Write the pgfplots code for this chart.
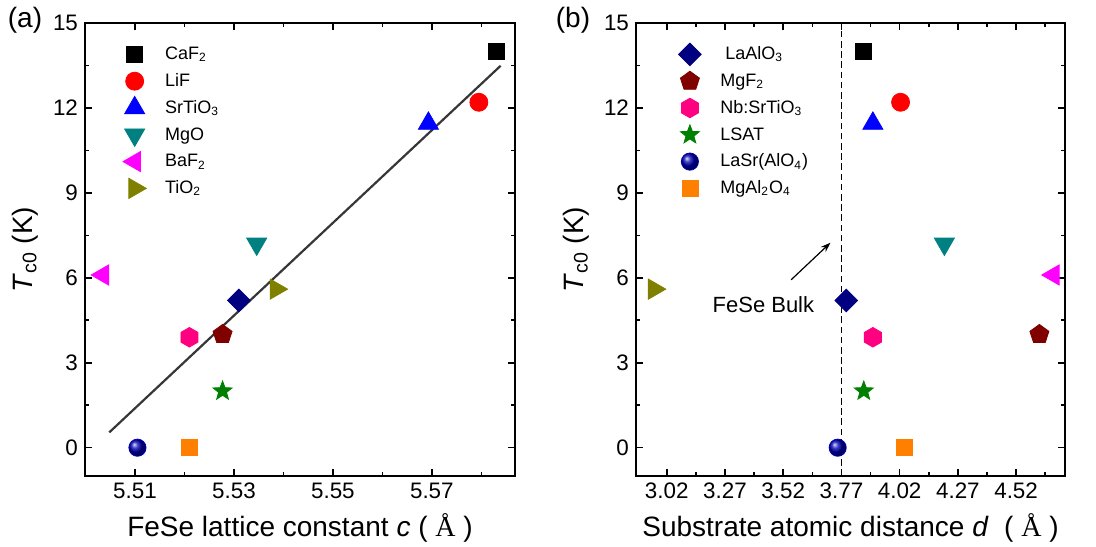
\documentclass[border=0pt]{standalone}
\usepackage{fontspec}
\setmainfont{Liberation Sans}
\newfontfamily\serifA{Liberation Serif}
\usepackage{pgfplots}
\pgfplotsset{compat=1.18}
\usetikzlibrary{plotmarks,arrows.meta}

% substrate colours
\definecolor{cBlack}{RGB}{0,0,0}
\definecolor{cRed}{RGB}{255,0,0}
\definecolor{cBlue}{RGB}{0,0,255}
\definecolor{cTeal}{RGB}{0,128,128}
\definecolor{cMagenta}{RGB}{255,0,255}
\definecolor{cOlive}{RGB}{128,128,0}
\definecolor{cNavy}{RGB}{0,0,128}
\definecolor{cMaroon}{RGB}{128,0,0}
\definecolor{cPink}{RGB}{255,0,128}
\definecolor{cGreen}{RGB}{0,128,0}
\definecolor{cBall}{RGB}{0,0,180}
\definecolor{cOrange}{RGB}{255,128,0}
\definecolor{cFit}{RGB}{55,55,55}

% filled hexagon
\pgfdeclareplotmark{hexagon*}{%
  \pgfpathmoveto{\pgfpointpolar{90}{\pgfplotmarksize}}%
  \pgfpathlineto{\pgfpointpolar{150}{\pgfplotmarksize}}%
  \pgfpathlineto{\pgfpointpolar{210}{\pgfplotmarksize}}%
  \pgfpathlineto{\pgfpointpolar{270}{\pgfplotmarksize}}%
  \pgfpathlineto{\pgfpointpolar{330}{\pgfplotmarksize}}%
  \pgfpathlineto{\pgfpointpolar{30}{\pgfplotmarksize}}%
  \pgfpathclose\pgfusepathqfillstroke}
% filled five-pointed star
\pgfdeclareplotmark{fstar}{%
  \pgfpathmoveto{\pgfpointpolar{90}{\pgfplotmarksize}}%
  \pgfpathlineto{\pgfpointpolar{126}{0.42\pgfplotmarksize}}%
  \pgfpathlineto{\pgfpointpolar{162}{\pgfplotmarksize}}%
  \pgfpathlineto{\pgfpointpolar{198}{0.42\pgfplotmarksize}}%
  \pgfpathlineto{\pgfpointpolar{234}{\pgfplotmarksize}}%
  \pgfpathlineto{\pgfpointpolar{270}{0.42\pgfplotmarksize}}%
  \pgfpathlineto{\pgfpointpolar{306}{\pgfplotmarksize}}%
  \pgfpathlineto{\pgfpointpolar{342}{0.42\pgfplotmarksize}}%
  \pgfpathlineto{\pgfpointpolar{18}{\pgfplotmarksize}}%
  \pgfpathlineto{\pgfpointpolar{54}{0.42\pgfplotmarksize}}%
  \pgfpathclose\pgfusepathqfillstroke}

\pgfplotsset{
  mk/.style={only marks,
    legend image code/.code={\path (0cm,0cm) (0.6cm+4.5pt,0cm);
      \draw[##1] plot coordinates {(0.3cm,0cm)};}},
  sCaF/.style={mk, mark=square*, mark size=4pt, color=cBlack},
  sLiF/.style={mk, mark=*, mark size=4.5pt, color=cRed},
  sSTO/.style={mk, mark=triangle*, mark size=5.8pt, color=cBlue},
  sMgO/.style={mk, mark=triangle*, mark size=5.8pt, color=cTeal, mark options={rotate=180}},
  sBaF/.style={mk, mark=triangle*, mark size=5.8pt, color=cMagenta, mark options={rotate=90}},
  sTiO/.style={mk, mark=triangle*, mark size=5.8pt, color=cOlive, mark options={rotate=-90}},
  sLAO/.style={mk, mark=square*, mark size=4pt, color=cNavy, mark options={rotate=45}},
  sMgF/.style={mk, mark=pentagon*, mark size=5pt, color=cMaroon},
  sNbSTO/.style={mk, mark=hexagon*, mark size=4.9pt, color=cPink},
  sLSAT/.style={mk, mark=fstar, mark size=5pt, color=cGreen},
  sLSAO/.style={mk, mark=ball, mark size=4.3pt, color=cBall, mark options={ball color=cBall}},
  sMAO/.style={mk, mark=square*, mark size=4pt, color=cOrange},
  panel/.style={
    scale only axis, height=226.5pt,
    ymin=-1, ymax=15,
    ytick={0,3,6,9,12,15},
    minor ytick={1.5,4.5,7.5,10.5,13.5},
    tick align=inside,
    major tick length=3.5pt, minor tick length=2pt,
    every tick/.style={black, line width=0.8pt},
    axis line style={line width=1pt},
    /pgf/number format/assume math mode=true,
    tick label style={font=\fontsize{11.2}{13}\selectfont},
    xticklabel style={/pgf/number format/.cd, fixed, fixed zerofill, precision=2},
    every axis y label/.style={at={(axis description cs:-0.14,0.5)}, rotate=90, anchor=center,
      font=\fontsize{14}{16}\selectfont},
    every axis x label/.style={at={(axis description cs:0.5,-0.115)}, anchor=center,
      font=\fontsize{14}{16}\selectfont},
    ylabel={\textit{T}\textsubscript{c0} (K)},
    legend cell align=left,
    legend style={draw=none, fill=none, anchor=north west,
      font=\fontsize{9}{11}\selectfont, row sep=0pt,
      nodes={text height=7.4pt, text depth=2pt, inner sep=2pt}},
  },
}

\begin{document}
\begin{tikzpicture}
\useasboundingbox (0,0) rectangle (548pt,273pt);

% (a) Tc0 versus FeSe lattice constant c
\begin{axis}[panel, at={(42.5pt,35pt)}, anchor=south west, width=215pt,
  xmin=5.4999, xmax=5.5868,
  xtick={5.51,5.53,5.55,5.57}, minor xtick={5.52,5.54,5.56,5.58},
  xlabel={FeSe lattice constant \textit{c} ( {\serifA Å} )},
  legend style={at={(axis description cs:0.06,0.97)}}]
\addplot[no marks, cFit, line width=1.1pt, forget plot] coordinates {(5.5048,0.54) (5.5839,13.49)};
\addplot[sCaF] coordinates {(5.583,14.0)};
\addlegendentry{CaF\textsubscript{2}}
\addplot[sLiF] coordinates {(5.5795,12.2)};
\addlegendentry{LiF}
\addplot[sSTO] coordinates {(5.5693,11.45)};
\addlegendentry{SrTiO\textsubscript{3}}
\addplot[sMgO] coordinates {(5.5346,7.2)};
\addlegendentry{MgO}
\addplot[sBaF] coordinates {(5.5035,6.1)};
\addlegendentry{BaF\textsubscript{2}}
\addplot[sTiO] coordinates {(5.5385,5.6)};
\addlegendentry{TiO\textsubscript{2}}
\addplot[sLAO, forget plot] coordinates {(5.531,5.2)};
\addplot[sMgF, forget plot] coordinates {(5.5277,4.0)};
\addplot[sNbSTO, forget plot] coordinates {(5.521,3.9)};
\addplot[sLSAT, forget plot] coordinates {(5.5277,2.0)};
\addplot[sLSAO, forget plot] coordinates {(5.5105,0)};
\addplot[sMAO, forget plot] coordinates {(5.521,0)};
\end{axis}

% (b) Tc0 versus substrate atomic distance d
\begin{axis}[panel, at={(318pt,35pt)}, anchor=south west, width=214.5pt,
  xmin=2.888, xmax=4.73,
  xtick={3.02,3.27,3.52,3.77,4.02,4.27,4.52},
  minor xtick={3.145,3.395,3.645,3.895,4.145,4.395,4.645},
  xlabel={Substrate atomic distance \textit{d}\ \ ( {\serifA Å} )},
  legend style={at={(axis description cs:0.07,0.97)}}]
\addplot[black, line width=0.7pt, dash pattern=on 3.3pt off 1.8pt, forget plot] coordinates {(3.77,-1) (3.77,15)};
\addplot[sCaF, forget plot] coordinates {(3.866,14.0)};
\addplot[sLiF, forget plot] coordinates {(4.024,12.2)};
\addplot[sSTO, forget plot] coordinates {(3.905,11.45)};
\addplot[sMgO, forget plot] coordinates {(4.212,7.2)};
\addplot[sBaF, forget plot] coordinates {(4.68,6.1)};
\addplot[sTiO, forget plot] coordinates {(2.966,5.6)};
\addplot[sLAO] coordinates {(3.791,5.2)};
\addlegendentry{\ LaAlO\textsubscript{3}}
\addplot[sMgF] coordinates {(4.62,4.0)};
\addlegendentry{MgF\textsubscript{2}}
\addplot[sNbSTO] coordinates {(3.905,3.9)};
\addlegendentry{Nb:SrTiO\textsubscript{3}}
\addplot[sLSAT] coordinates {(3.866,2.0)};
\addlegendentry{LSAT}
\addplot[sLSAO] coordinates {(3.754,0)};
\addlegendentry{LaSr(AlO\textsubscript{4})}
\addplot[sMAO] coordinates {(4.04,0)};
\addlegendentry{MgAl\textsubscript{2}O\textsubscript{4}}
\draw[-{Stealth[length=5pt,width=3.5pt]}, line width=0.6pt] (axis cs:3.554,5.93) -- (axis cs:3.723,7.24);
\node[font=\fontsize{11}{13}\selectfont] at (axis cs:3.435,5.05) {FeSe Bulk};
\end{axis}

\node[font=\fontsize{14}{16}\selectfont] at (12.5pt,263pt) {(a)};
\node[font=\fontsize{14}{16}\selectfont] at (286.5pt,263pt) {(b)};
\end{tikzpicture}
\end{document}
